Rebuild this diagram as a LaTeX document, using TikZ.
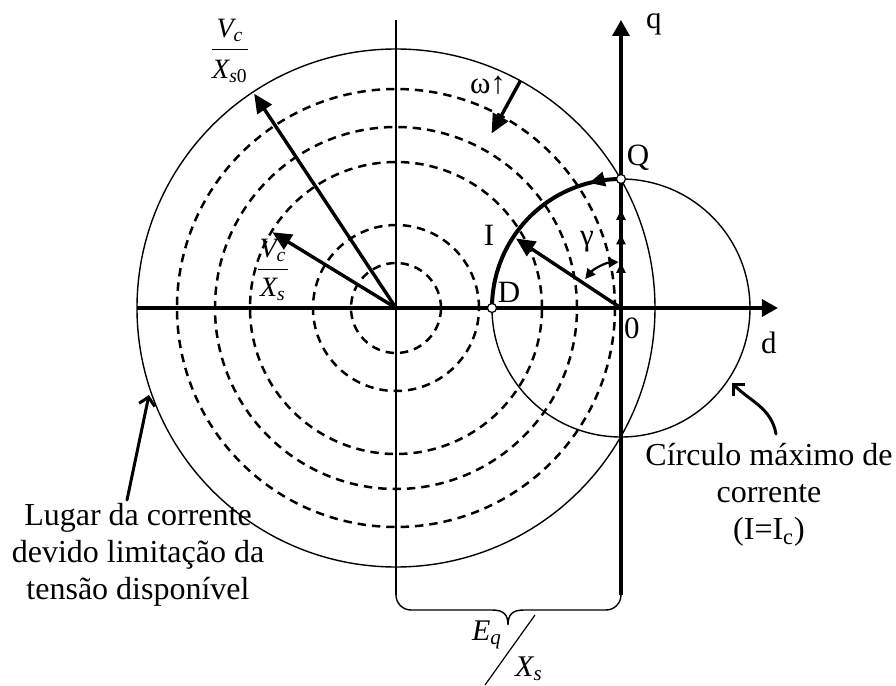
\documentclass[tikz,border=0pt]{standalone}
\usepackage{fontspec}
\setmainfont{Liberation Serif}
\usepackage{tikz}
\usetikzlibrary{arrows.meta,positioning,calc,decorations.markings}

\begin{document}
\begin{tikzpicture}[x=0.5pt, y=0.5pt,
        thinline/.style={line width=0.7pt},
        dashcirc/.style={line width=1.25pt, dash pattern=on 4.2pt off 3pt},
        axis/.style={line width=1.7pt, -{Triangle[length=8pt,width=8.5pt]}},
        vecarrow/.style={line width=1.7pt, -{Triangle[length=9.5pt,width=8.5pt]}},
        pointer/.style={line width=1.5pt, line cap=round, -{Straight Barb[length=4pt,width=8pt]}},
        ptdot/.style={circle, draw=black, fill=white, line width=0.6pt, inner sep=0pt, minimum size=4.5pt},
        lbl/.style={font=\fontsize{15.5}{18}\selectfont, inner sep=1pt},
        bigtext/.style={align=center, font=\fontsize{16}{18.5}\selectfont},
        fraclbl/.style={font=\fontsize{14}{16}\selectfont, inner sep=0pt}
    ]
    \useasboundingbox (-396,-378) rectangle (500,308);

    % Main points
    \coordinate (C) at (0,0);
    \coordinate (O) at (225,0);
    \coordinate (D) at (96,0);
    \coordinate (Q) at (225,129);
    \coordinate (I) at ($(O)+(146.5:126)$);

    % Voltage limit circles
    \draw[thinline] (C) circle[radius=259];
    \foreach \r in {45,83,146,181,219}
        \draw[dashcirc] (C) circle[radius=\r];

    % Current limit circle
    \draw[thinline] (O) circle[radius=129];

    % Axes
    \coordinate (Vtop) at (0,288);
    \coordinate (Vbot) at (0,-287);
    \coordinate (Dleft) at (-259,0);
    \coordinate (Dend) at (382,0);
    \coordinate (Qtop) at (225,288);
    \coordinate (Qbot) at (225,-287);
    \draw[thinline] (Vtop) -- (Vbot);
    \draw[axis] (Dleft) -- (Dend);
    \draw[axis] (Qbot) -- (Qtop);
    \draw[line width=1.7pt, postaction={decorate}, decoration={markings,
        mark=at position 0.35 with {\arrow{Triangle[length=5pt,width=4.5pt]}},
        mark=at position 0.57 with {\arrow{Triangle[length=5pt,width=4.5pt]}},
        mark=at position 0.76 with {\arrow{Triangle[length=5pt,width=4.5pt]}}}]
        (O) -- (Q);

    % Brace under the axes
    \coordinate (Bmid) at (112,-317);
    \draw[thinline] (Vbot) arc[start angle=180, end angle=270, radius=15] -- (96,-302)
        .. controls (108,-302) and (112,-307) .. (Bmid)
        .. controls (112,-307) and (116,-302) .. (128,-302) -- (210,-302)
        arc[start angle=270, end angle=360, radius=15];

    % Trajectory D -> Q
    \draw[line width=2pt, postaction={decorate}, decoration={markings,
        mark=at position 0.16 with {\arrow{Triangle[length=8pt,width=7pt]}}}]
        (Q) arc[start angle=90, end angle=180, radius=129];

    % Current vector and angle
    \draw[vecarrow] (O) -- (I);
    \draw[line width=1.1pt, {Triangle[length=5pt,width=5pt]}-{Triangle[length=5pt,width=5pt]}]
        ($(O)+(141:46)$) arc[start angle=141, end angle=93, radius=46];

    % Radius arrows
    \coordinate (Vs0) at (123.5:257);
    \coordinate (Vs) at (148.5:145);
    \coordinate (W1) at (61.3:259);
    \coordinate (W2) at (61.3:199);
    \draw[vecarrow] (C) -- (Vs0);
    \draw[vecarrow] (C) -- (Vs);
    \draw[vecarrow] (W1) -- (W2);

    % Points
    \node[ptdot] (dotD) at (D) {};
    \node[ptdot] (dotQ) at (Q) {};

    % Labels
    \node[lbl] (labD) at (113,16) {D};
    \node[lbl] (labI) at (93,73) {I};
    \node[lbl] (labQ) at (242,150) {Q};
    \node[lbl] (lab0) at (236,-20) {0};
    \node[lbl] (labd) at (373,-35) {d};
    \node[lbl] (labq) at (258,284) {q};
    \node[lbl] (labgamma) at (191,66) {γ};
    \node[lbl] (labomega) at (92,223) {ω↑};

    \node[fraclbl] (fracVs0) at (-166,257)
        {$\displaystyle\frac{\hspace{1.5pt}\mbox{\itshape V\textsubscript{c}}\hspace{1.5pt}}{\rule{0pt}{13pt}\mbox{\itshape X\textsubscript{s\upshape 0}}}$};
    \node[fraclbl] (fracVs) at (-123,38)
        {$\displaystyle\frac{\hspace{1pt}\mbox{\itshape V\textsubscript{c}}\hspace{1pt}}{\rule{0pt}{12pt}\mbox{\itshape X\textsubscript{s}}}$};

    \node[fraclbl, font=\fontsize{15}{17}\selectfont] (labEq) at (91,-327) {\itshape E\textsubscript{q}};
    \node[fraclbl, font=\fontsize{15}{17}\selectfont] (labXs) at (133,-361) {\itshape X\textsubscript{s}};
    \coordinate (S1) at (139,-307);
    \coordinate (S2) at (89,-377);
    \draw[line width=0.6pt] (S1) -- (S2);

    % Explanations
    \node[bigtext] (lugar) at (-258,-247) {Lugar da corrente\\devido limitação da\\tensão disponível};
    \node[bigtext] (circulo) at (373,-187) {Círculo máximo de\\corrente\\(I=I\textsubscript{c})};

    \coordinate (P1) at (-269,-192);
    \coordinate (P2) at (-247,-87);
    \coordinate (P3) at (380,-126);
    \coordinate (P4) at (336,-75);
    \draw[pointer] (P1) -- (P2);
    \draw[pointer] (P3) to[out=100,in=-45] (P4);

\end{tikzpicture}
\end{document}
